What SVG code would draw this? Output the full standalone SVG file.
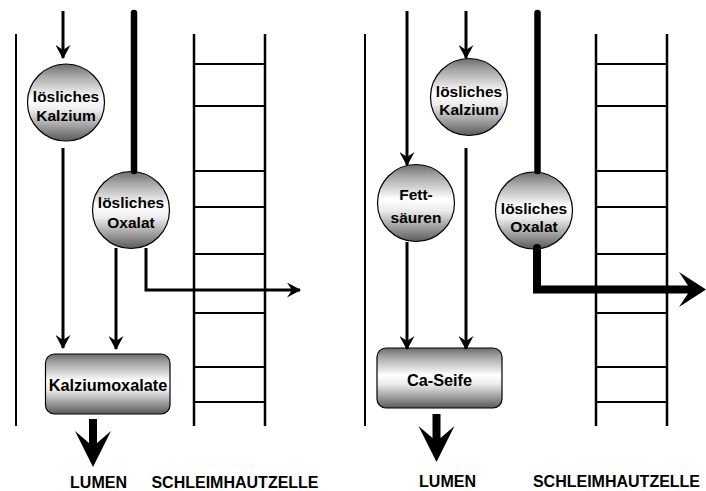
<svg xmlns="http://www.w3.org/2000/svg" width="706" height="491" viewBox="0 0 706 491">
  <defs>
    <linearGradient id="shade" x1="0" y1="0" x2="0" y2="1">
      <stop offset="0" stop-color="#6c6c6c"/>
      <stop offset="0.15" stop-color="#a6a6a6"/>
      <stop offset="0.45" stop-color="#ffffff"/>
      <stop offset="0.6" stop-color="#ececec"/>
      <stop offset="1" stop-color="#5a5a5a"/>
    </linearGradient>
    <marker id="head" viewBox="0 0 14 15" markerWidth="14" markerHeight="15" refX="13" refY="7.5" orient="auto" markerUnits="userSpaceOnUse">
      <path d="M0,0 L14,7.5 L0,15 L5,7.5 Z" fill="#000"/>
    </marker>
    <path id="bigDown" d="M-4,-48 L4,-48 L4,-24 L18,-36 L0,0 L-18,-36 L-4,-24 Z" fill="#000"/>
  </defs>
  <style>
    .wall { stroke: #000; stroke-width: 2; fill: none; }
    .rail { stroke: #000; stroke-width: 2.5; fill: none; }
    .rung { stroke: #000; stroke-width: 2; }
    .flow { stroke: #000; stroke-width: 3; fill: none; marker-end: url(#head); }
    .heavy { stroke: #000; stroke-width: 6.5; stroke-linecap: round; fill: none; }
    .node { fill: url(#shade); stroke: #000; stroke-width: 1.2; }
    .lbl { font-family: "Liberation Sans", Arial, sans-serif; font-weight: bold; font-size: 15.5px; fill: #000; text-anchor: middle; }
    .cap { font-size: 16px; }
    .box { font-size: 16.3px; }
  </style>

  <!-- lumen walls and mucosa cell ladders -->
  <g id="left-wall"><line class="wall" x1="16" y1="34" x2="16" y2="426"/></g>
  <g id="left-cell">
    <line class="rail" x1="194" y1="34" x2="194" y2="426"/>
    <line class="rail" x1="265" y1="34" x2="265" y2="426"/>
    <g class="rung">
      <line x1="194" y1="64" x2="265" y2="64"/>
      <line x1="194" y1="106" x2="265" y2="106"/>
      <line x1="194" y1="171" x2="265" y2="171"/>
      <line x1="194" y1="207" x2="265" y2="207"/>
      <line x1="194" y1="254" x2="265" y2="254"/>
      <line x1="194" y1="313" x2="265" y2="313"/>
      <line x1="194" y1="367" x2="265" y2="367"/>
      <line x1="194" y1="402" x2="265" y2="402"/>
    </g>
  </g>
  <g id="right-wall"><line class="wall" x1="365" y1="34" x2="365" y2="426"/></g>
  <g id="right-cell">
    <line class="rail" x1="596" y1="34" x2="596" y2="426"/>
    <line class="rail" x1="667" y1="34" x2="667" y2="426"/>
    <g class="rung">
      <line x1="596" y1="64" x2="667" y2="64"/>
      <line x1="596" y1="106" x2="667" y2="106"/>
      <line x1="596" y1="171" x2="667" y2="171"/>
      <line x1="596" y1="207" x2="667" y2="207"/>
      <line x1="596" y1="254" x2="667" y2="254"/>
      <line x1="596" y1="313" x2="667" y2="313"/>
      <line x1="596" y1="367" x2="667" y2="367"/>
      <line x1="596" y1="402" x2="667" y2="402"/>
    </g>
  </g>

  <!-- left panel nodes -->
  <g id="ca-left">
    <circle class="node" cx="66" cy="102.5" r="38.5"/>
    <text class="lbl" x="66" y="102">lösliches</text>
    <text class="lbl" x="66" y="121">Kalzium</text>
  </g>
  <g id="ox-left">
    <circle class="node" cx="131" cy="210" r="38.5"/>
    <text class="lbl" x="131" y="208">lösliches</text>
    <text class="lbl" x="131" y="228">Oxalat</text>
  </g>
  <g id="caox">
    <rect class="node" x="45.5" y="354" width="124.5" height="60" rx="9"/>
    <text class="lbl box" x="108" y="391">Kalziumoxalate</text>
  </g>

  <!-- right panel nodes -->
  <g id="ca-right">
    <circle class="node" cx="469" cy="97" r="38.5"/>
    <text class="lbl" x="469" y="97">lösliches</text>
    <text class="lbl" x="469" y="115">Kalzium</text>
  </g>
  <g id="fat">
    <circle class="node" cx="416" cy="203" r="38.5"/>
    <text class="lbl" x="416" y="200">Fett-</text>
    <text class="lbl" x="416" y="223">säuren</text>
  </g>
  <g id="ox-right">
    <circle class="node" cx="534" cy="210.5" r="38.5"/>
    <text class="lbl" x="534" y="214">lösliches</text>
    <text class="lbl" x="534" y="232">Oxalat</text>
  </g>
  <g id="soap">
    <rect class="node" x="377" y="348" width="125" height="60" rx="9"/>
    <text class="lbl box" x="439.5" y="386">Ca-Seife</text>
  </g>

  <!-- captions -->
  <g id="captions">
    <text class="lbl cap" x="98.5" y="488">LUMEN</text>
    <text class="lbl cap" x="235" y="488">SCHLEIMHAUTZELLE</text>
    <text class="lbl cap" x="447.5" y="487">LUMEN</text>
    <text class="lbl cap" x="616.5" y="487">SCHLEIMHAUTZELLE</text>
  </g>

  <!-- connectors -->
  <g id="connectors">
    <line class="flow" x1="63" y1="11" x2="63" y2="58"/>
    <line class="flow" x1="63" y1="148" x2="63" y2="348"/>
    <line class="heavy" x1="134" y1="13" x2="134" y2="171"/>
    <line class="flow" x1="116" y1="248" x2="116" y2="349"/>
    <polyline class="flow" points="146,248 146,290 300,290"/>
    <use href="#bigDown" transform="translate(93,467)"/>

    <line class="flow" x1="407" y1="11" x2="407" y2="165"/>
    <line class="flow" x1="466" y1="11" x2="466" y2="58"/>
    <line class="flow" x1="466" y1="148" x2="466" y2="349"/>
    <line class="flow" x1="407" y1="242" x2="407" y2="349"/>
    <line class="heavy" x1="537.5" y1="13" x2="537.5" y2="171"/>
    <polyline points="537,248 537,289.5 692,289.5" fill="none" stroke="#000" stroke-width="8" stroke-linejoin="miter"/>
    <circle cx="537" cy="248" r="4" fill="#000"/>
    <path d="M679,272 L706,289.5 L679,307 L688,293.5 L688,285.5 Z" fill="#000"/>
    <use href="#bigDown" transform="translate(436.5,462)"/>
  </g>
</svg>
